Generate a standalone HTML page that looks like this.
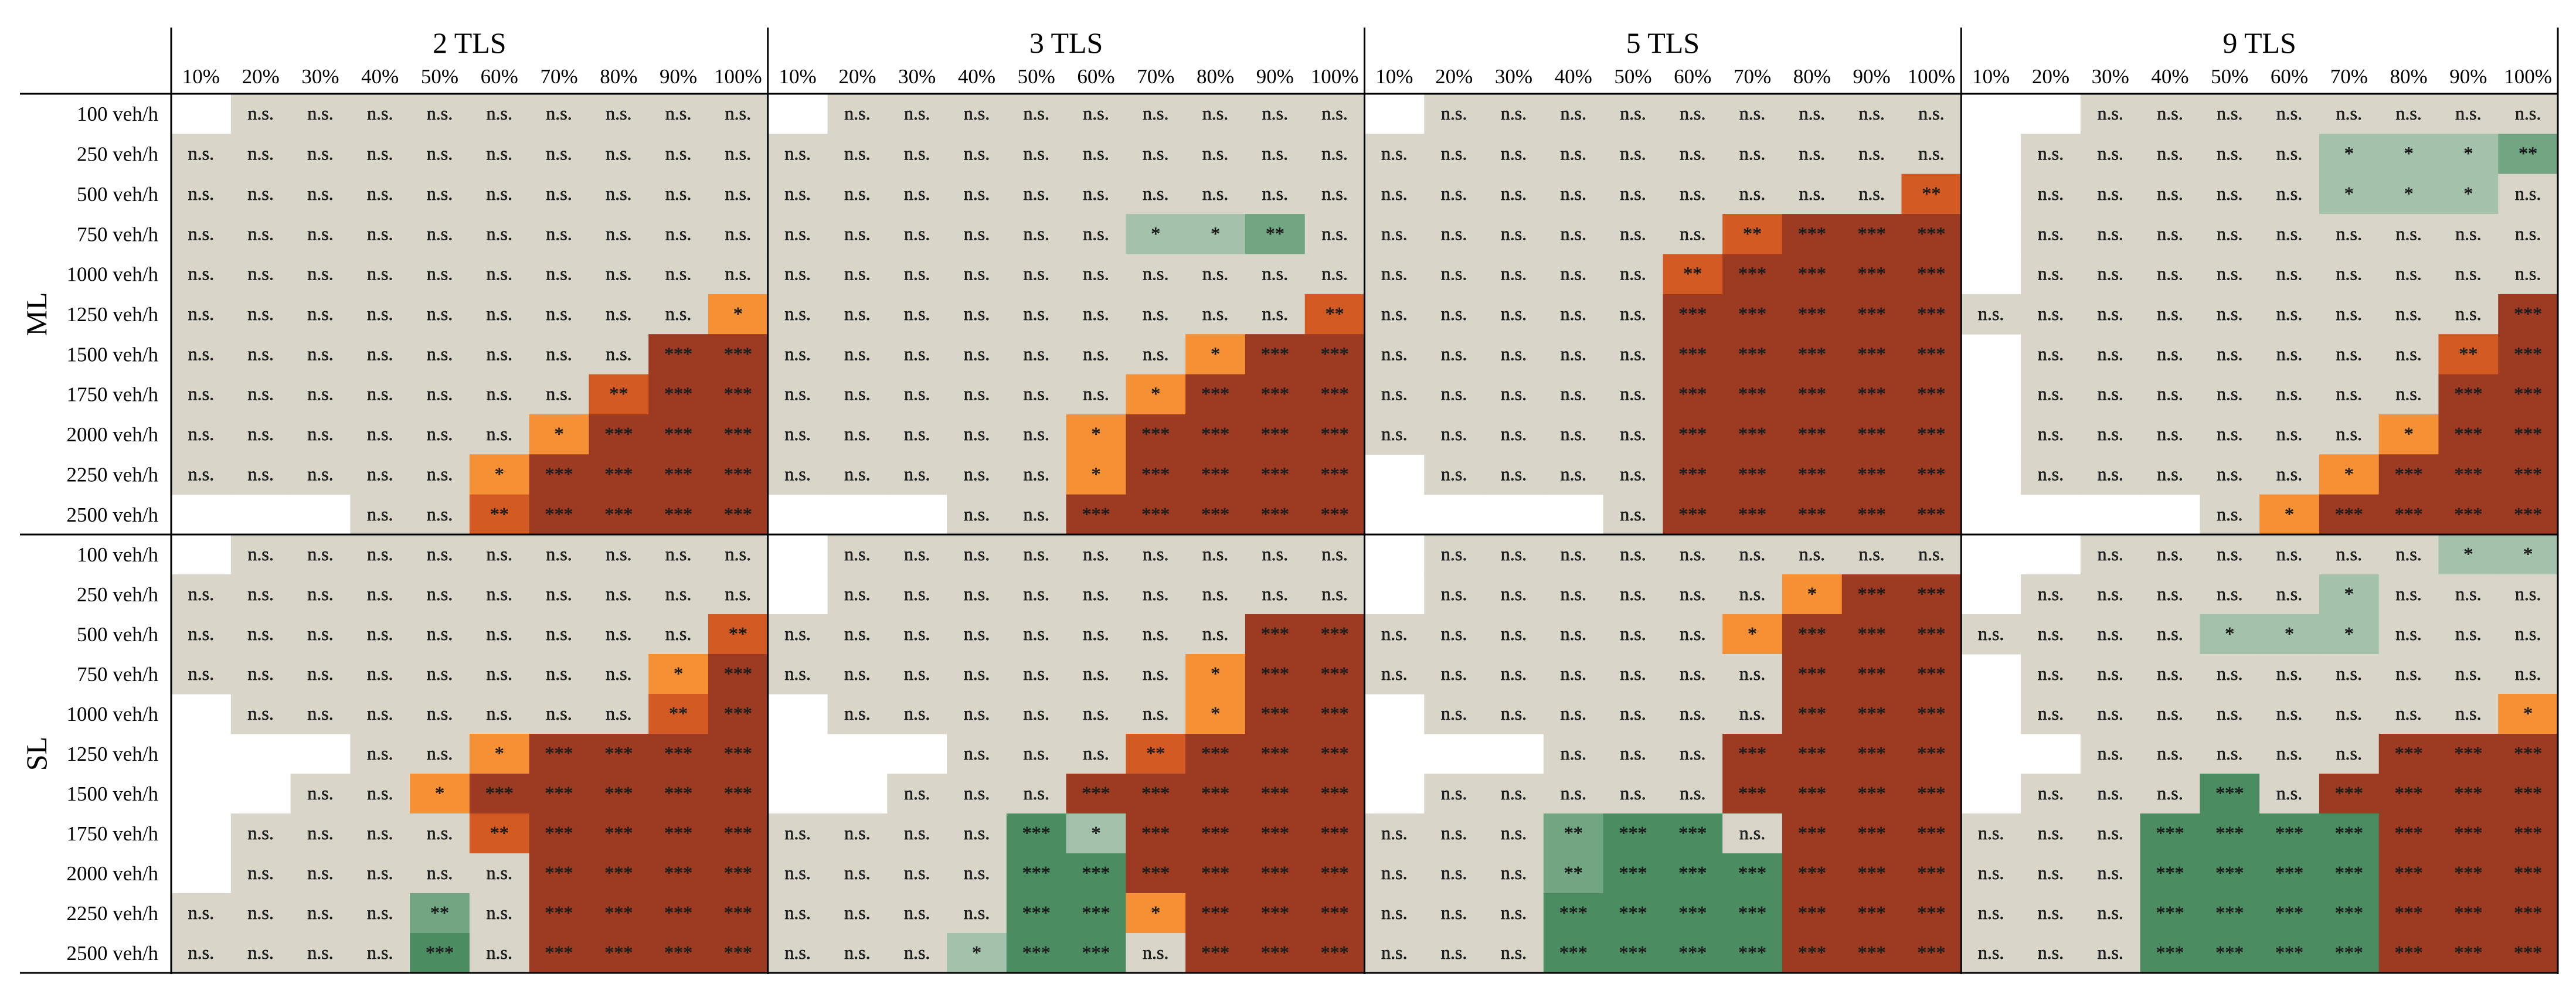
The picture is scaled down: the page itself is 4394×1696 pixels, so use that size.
<!DOCTYPE html>
<html>
<head>
<meta charset="utf-8">
<style>
  html,body{margin:0;padding:0;background:#fff;}
  #chart{display:block;}
  text{font-family:"Liberation Serif",serif;}
</style>
</head>
<body>
<svg id="chart" width="4394" height="1696" viewBox="0 0 4394 1696" xmlns="http://www.w3.org/2000/svg"></svg>
<script>
// ---- data ----
const panels = ["2 TLS", "3 TLS", "5 TLS", "9 TLS"];
const colLabels = ["10%","20%","30%","40%","50%","60%","70%","80%","90%","100%"];
const rowLabels = ["100 veh/h","250 veh/h","500 veh/h","750 veh/h","1000 veh/h","1250 veh/h","1500 veh/h","1750 veh/h","2000 veh/h","2250 veh/h","2500 veh/h"];
const sections = ["ML", "SL"];
// codes: b blank, n n.s., g green *, G green **, H green ***, o orange *, O orange **, R brown ***
const ml2 = ["bnnnnnnnnn","nnnnnnnnnn","nnnnnnnnnn","nnnnnnnnnn","nnnnnnnnnn","nnnnnnnnno","nnnnnnnnRR","nnnnnnnORR","nnnnnnoRRR","nnnnnoRRRR","bbbnnORRRR"];
const ml3 = ["bnnnnnnnnn","nnnnnnnnnn","nnnnnnnnnn","nnnnnnggGn","nnnnnnnnnn","nnnnnnnnnO","nnnnnnnoRR","nnnnnnoRRR","nnnnnoRRRR","nnnnnoRRRR","bbbnnRRRRR"];
const ml5 = ["bnnnnnnnnn","nnnnnnnnnn","nnnnnnnnnO","nnnnnnORRR","nnnnnORRRR","nnnnnRRRRR","nnnnnRRRRR","nnnnnRRRRR","nnnnnRRRRR","bnnnnRRRRR","bbbbnRRRRR"];
const ml9 = ["bbnnnnnnnn","bnnnnngggG","bnnnnngggn","bnnnnnnnnn","bnnnnnnnnn","nnnnnnnnnR","bnnnnnnnOR","bnnnnnnnRR","bnnnnnnoRR","bnnnnnoRRR","bbbbnoRRRR"];
const sl2 = ["bnnnnnnnnn","nnnnnnnnnn","nnnnnnnnnO","nnnnnnnnoR","bnnnnnnnOR","bbbnnoRRRR","bbnnoRRRRR","bnnnnORRRR","bnnnnnRRRR","nnnnGnRRRR","nnnnHnRRRR"];
const sl3 = ["bnnnnnnnnn","bnnnnnnnnn","nnnnnnnnRR","nnnnnnnoRR","bnnnnnnoRR","bbbnnnORRR","bbnnnRRRRR","nnnnHgRRRR","nnnnHHRRRR","nnnnHHoRRR","nnngHHnRRR"];
const sl5 = ["bnnnnnnnnn","bnnnnnnoRR","nnnnnnoRRR","nnnnnnnRRR","bnnnnnnRRR","bbbnnnRRRR","bnnnnnRRRR","nnnGHHnRRR","nnnGHHHRRR","nnnHHHHRRR","nnnHHHHRRR"];
const sl9 = ["bbnnnnnngg","bnnnnngnnn","nnnngggnnn","bnnnnnnnnn","bnnnnnnnno","bbnnnnnRRR","bnnnHnRRRR","nnnHHHHRRR","nnnHHHHRRR","nnnHHHHRRR","nnnHHHHRRR"];
const mlData = [ml2, ml3, ml5, ml9];
const slData = [sl2, sl3, sl5, sl9];

// ---- styling / scales ----
const fills = {n:"#d9d5c9", g:"#a3c1ab", G:"#72a682", H:"#4b8c61", o:"#f69035", O:"#d35a22", R:"#9c3a22"};
const labels = {n:"n.s.", g:"*", G:"**", H:"***", o:"*", O:"**", R:"***"};
const X0 = 292, panelW = 1017.75, cellW = panelW / 10;
const secTop = [160, 912], secBot = [912, 1660];
function xCell(p, c){ return X0 + p*panelW + c*cellW; }
function yCell(s, r){ return secTop[s] + r*(secBot[s]-secTop[s])/11; }
function rowH(s){ return (secBot[s]-secTop[s])/11; }

const svg = document.getElementById('chart');
const NS = "http://www.w3.org/2000/svg";
function mk(tag, attrs){ const e=document.createElementNS(NS, tag); for(const k in attrs) e.setAttribute(k, attrs[k]); svg.appendChild(e); return e; }

// cells
[mlData, slData].forEach((secData, s) => {
  secData.forEach((panel, p) => {
    panel.forEach((rowStr, r) => {
      for (let c = 0; c < 10; c++) {
        const code = rowStr[c];
        if (code === 'b') continue;
        const rect = mk('rect', {x: xCell(p,c), y: yCell(s,r), width: cellW+0.6, height: rowH(s)+0.6, fill: fills[code]});
        
        
        const t = mk('text', {x: xCell(p,c)+cellW/2, y: yCell(s,r)+rowH(s)/2+10, 'text-anchor':'middle', 'font-size': 32, fill:'#1e1e1e', stroke:'#1e1e1e', 'stroke-width':0.7});
        t.textContent = labels[code];
        
        
      }
    });
  });
});

// panel titles and column labels
panels.forEach((name, p) => {
  const t = mk('text', {x: X0 + p*panelW + panelW/2, y: 90, 'text-anchor':'middle', 'font-size': 50, fill:'#000'});
  t.textContent = name;
  
  
  colLabels.forEach((cl, c) => {
    const u = mk('text', {x: xCell(p,c)+cellW/2, y: 142, 'text-anchor':'middle', 'font-size': 35, fill:'#000'});
    u.textContent = cl;
    
    
  });
});

// row labels and section labels
sections.forEach((sec, s) => {
  rowLabels.forEach((rl, r) => {
    const t = mk('text', {x: 270, y: yCell(s,r)+rowH(s)/2+12, 'text-anchor':'end', 'font-size': 35, fill:'#000'});
    t.textContent = rl;
    
    
  });
  const cy = (secTop[s]+secBot[s])/2, cx = 62;
  const st = mk('text', {x: cx, y: cy, 'text-anchor':'middle', 'dominant-baseline':'central', 'font-size': 50, fill:'#000', transform:`rotate(-90 ${cx} ${cy})`});
  st.textContent = sec;
  
  
});

// grid lines
for (let p = 0; p <= 4; p++) {
  const x = X0 + p*panelW;
  const l = mk('line', {x1:x, y1:47, x2:x, y2:1662, stroke:'#000', 'stroke-width':3});
  
  
}
[160, 912, 1660].forEach(y => {
  const l = mk('line', {x1:34, y1:y, x2:X0+4*panelW+1, y2:y, stroke:'#000', 'stroke-width':3});
  
  
});
</script>
</body>
</html>
